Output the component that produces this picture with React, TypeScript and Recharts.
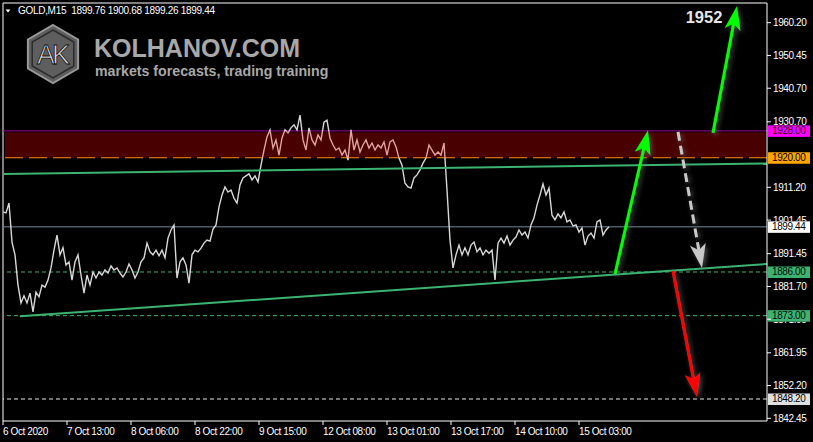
import React from "react";
import { ComposedChart, Line, XAxis, YAxis, ReferenceLine, ReferenceArea } from "recharts";

const FONT = "'Liberation Sans', Arial, sans-serif";

// GOLD M15 closes, one sample every third bar
const BAR_STEP = 3;
const CLOSES = [
  1903.9, 1903.6, 1906.5, 1894.9, 1891.1, 1882.1, 1876.8, 1878.9, 1876.8, 1879.7,
  1874.1, 1880.0, 1878.6, 1882.1, 1881.5, 1883.6, 1887.2, 1892.5, 1897.0, 1891.1,
  1893.2, 1888.1, 1889.0, 1883.6, 1889.0, 1891.1, 1885.1, 1879.7, 1885.1, 1882.1,
  1886.0, 1884.2, 1886.0, 1885.1, 1886.6, 1885.7, 1887.8, 1886.6, 1887.2, 1885.7,
  1884.5, 1886.0, 1888.4, 1886.6, 1884.2, 1886.0, 1889.0, 1890.2, 1894.6, 1892.0,
  1891.1, 1892.5, 1890.8, 1892.5, 1890.2, 1896.1, 1898.5, 1900.0, 1884.2, 1889.0,
  1890.2, 1888.1, 1882.7, 1891.1, 1892.5, 1892.0, 1893.1, 1894.6, 1895.5, 1895.2,
  1898.8, 1900.0, 1905.4, 1908.9, 1911.3, 1909.8, 1910.4, 1908.0, 1906.5, 1911.9,
  1914.0, 1914.6, 1915.2, 1913.4, 1914.6, 1912.8, 1917.8, 1922.3, 1926.2, 1928.3,
  1922.9, 1925.3, 1920.8, 1925.9, 1928.3, 1927.4, 1928.9, 1929.8, 1928.3, 1932.7,
  1925.3, 1922.3, 1928.9, 1925.3, 1923.8, 1926.8, 1925.3, 1930.6, 1931.2, 1925.9,
  1923.8, 1922.3, 1922.9, 1920.8, 1922.3, 1919.3, 1928.3, 1922.3, 1925.3, 1921.7,
  1923.8, 1925.3, 1922.9, 1924.4, 1922.3, 1923.8, 1922.9, 1924.7, 1920.8, 1924.7,
  1925.3, 1923.2, 1919.9, 1917.8, 1912.4, 1911.3, 1911.0, 1914.0, 1914.9, 1916.4,
  1918.4, 1919.9, 1923.8, 1922.3, 1920.8, 1921.7, 1920.8, 1924.4, 1910.4, 1895.5,
  1887.2, 1891.1, 1894.0, 1891.1, 1893.2, 1891.1, 1894.0, 1894.9, 1892.0, 1893.2,
  1891.1, 1892.5, 1891.6, 1892.5, 1883.6, 1894.6, 1896.1, 1894.6, 1896.7, 1894.0,
  1895.5, 1896.4, 1898.5, 1897.0, 1897.9, 1896.1, 1900.0, 1902.1, 1905.9, 1908.9,
  1912.2, 1908.9, 1911.0, 1902.9, 1901.5, 1903.3, 1902.1, 1903.9, 1900.9, 1901.5,
  1899.7, 1900.0, 1897.9, 1899.1, 1894.0, 1896.7, 1897.6, 1896.1, 1900.9, 1901.5,
  1897.0, 1898.5, 1899.44,
];

const TIME_TICKS = [0, 64, 128, 192, 256, 320, 384, 448, 512, 576];
const TIME_LABELS = [
  "6 Oct 2020", "7 Oct 13:00", "8 Oct 06:00", "8 Oct 22:00", "9 Oct 15:00",
  "12 Oct 08:00", "13 Oct 01:00", "13 Oct 17:00", "14 Oct 10:00", "15 Oct 03:00",
];
const PRICE_TICKS = [
  1960.2, 1950.45, 1940.7, 1930.7, 1911.2, 1901.45, 1891.45, 1881.7,
  1871.95, 1861.95, 1852.2, 1842.45,
];

// horizontal levels
const ZONE_TOP = 1928;
const ZONE_BOTTOM = 1920;
const LAST_PRICE = 1899.44;
const SUPPORT = 1886;
const SUPPORT_LOW = 1873;
const TARGET_DOWN = 1848.2;

// channel lines [bar, price]
const UPPER_TREND = [[0, 1915.2], [764, 1918.3]];
const LOWER_TREND = [[17, 1872.8], [764, 1888.4]];

// forecast arrows [bar, price]
const UP_NEAR = [[612, 1885.4], [645, 1928.2]];
const UP_FAR = [[710, 1927.4], [734, 1965.2]];
const PULLBACK = [[675, 1927.7], [699, 1887.2]];
const BREAKDOWN = [[670, 1886.3], [694, 1848.8]];

const X_DOMAIN = [0, 764];
const Y_DOMAIN = [1841.65, 1966.06];

const W = 813;
const H = 442;
const PLOT_TOP = 3;
const PLOT_H = H - PLOT_TOP - 21;
const PX_PER_UNIT = PLOT_H / (Y_DOMAIN[1] - Y_DOMAIN[0]);
const priceToY = (p: number) => PLOT_TOP + (Y_DOMAIN[1] - p) * PX_PER_UNIT;

const TAG_LEVELS = [ZONE_TOP, ZONE_BOTTOM, LAST_PRICE, SUPPORT, SUPPORT_LOW, TARGET_DOWN];

const data = CLOSES.map((price, i) => ({ bar: i * BAR_STEP, price }));

const seg = (pts: number[][]) => pts.map(([x, y]) => ({ x, y }));

function TimeTick({ x, y, payload }: any) {
  const i = TIME_TICKS.indexOf(payload.value);
  return (
    <text x={x} y={y + 8} fill="#fff" fontSize={10} fontFamily={FONT} letterSpacing={-0.4}>
      {TIME_LABELS[i]}
    </text>
  );
}

// axis prices sit under the coloured level tags, so cut the tag boxes out of them
function PriceTick({ x, y, payload }: any) {
  const v = Number(payload.value);
  const holes = TAG_LEVELS.map((l) => y + (v - l) * PX_PER_UNIT).filter(
    (ty) => Math.abs(ty - y) < 14
  );
  const id = `price-tick-${Math.round(v * 100)}`;
  const d =
    `M${x - 4},${y - 12}h52v24h-52z` +
    holes.map((ty) => `M${x - 4},${ty - 5.5}h52v11.5h-52z`).join("");
  return (
    <g>
      {holes.length > 0 && (
        <defs>
          <clipPath id={id}>
            <path d={d} clipRule="evenodd" />
          </clipPath>
        </defs>
      )}
      <text
        x={x}
        y={y + 3.5}
        fill="#fff"
        fontSize={10}
        fontFamily={FONT}
        letterSpacing={-0.4}
        clipPath={holes.length > 0 ? `url(#${id})` : undefined}
      >
        {v.toFixed(2)}
      </text>
    </g>
  );
}

function PriceTag({ viewBox, bg, fg, value }: any) {
  if (!viewBox) return null;
  const x = viewBox.x + viewBox.width + 1;
  const y = viewBox.y;
  return (
    <g>
      <rect x={x} y={y - 5.5} width={42} height={11.5} fill={bg} />
      <text x={x + 4} y={y + 3.5} fill={fg} fontSize={10} fontFamily={FONT} letterSpacing={-0.4}>
        {value.toFixed(2)}
      </text>
    </g>
  );
}

function arrowShape(color: string, dashed: boolean) {
  return (p: any) => {
    const { x1, y1, x2, y2 } = p;
    const dx = x2 - x1;
    const dy = y2 - y1;
    const len = Math.hypot(dx, dy) || 1;
    const ux = dx / len;
    const uy = dy / len;
    const nx = -uy;
    const ny = ux;
    const head = 24;
    const half = 8;
    const notch = 6;
    const bx = x2 - ux * head;
    const by = y2 - uy * head;
    const mx = x2 - ux * (head - notch);
    const my = y2 - uy * (head - notch);
    const pts = [
      [x2, y2],
      [bx + nx * half, by + ny * half],
      [mx, my],
      [bx - nx * half, by - ny * half],
    ]
      .map((q) => q.join(","))
      .join(" ");
    return (
      <g filter="url(#arrowShadow)">
        <line
          x1={x1}
          y1={y1}
          x2={mx}
          y2={my}
          stroke={color}
          strokeWidth={3}
          strokeDasharray={dashed ? "9 5" : undefined}
        />
        <polygon points={pts} fill={color} />
      </g>
    );
  };
}

function Overlay() {
  const hex = (cx: number, cy: number, r: number) =>
    [-90, -30, 30, 90, 150, 210]
      .map((a) => {
        const t = (a * Math.PI) / 180;
        return `${cx + r * Math.cos(t)},${cy + r * Math.sin(t)}`;
      })
      .join(" ");
  const zTop = priceToY(ZONE_TOP) / H;
  const zBottom = priceToY(ZONE_BOTTOM) / H;
  return (
    <svg
      width={W}
      height={H}
      style={{ position: "absolute", left: 0, top: 0, pointerEvents: "none" }}
    >
      <defs>
        <filter id="arrowShadow" x="-50%" y="-50%" width="200%" height="200%">
          <feDropShadow dx="2" dy="2" stdDeviation="2.5" floodColor="#707070" floodOpacity="0.7" />
        </filter>
        {/* price line turns pink inside the supply zone */}
        <linearGradient id="priceStroke" gradientUnits="userSpaceOnUse" x1={0} y1={0} x2={0} y2={H}>
          <stop offset={0} stopColor="#d8d8d8" />
          <stop offset={zTop} stopColor="#d8d8d8" />
          <stop offset={zTop} stopColor="#e2a2a2" />
          <stop offset={zBottom} stopColor="#e2a2a2" />
          <stop offset={zBottom} stopColor="#d8d8d8" />
          <stop offset={1} stopColor="#d8d8d8" />
        </linearGradient>
      </defs>
      <polygon points="5.5,9.5 10.5,9.5 8,12.5" fill="#fff" />
      <text x={18} y={14} fill="#fff" fontSize={10} fontFamily={FONT} letterSpacing={-0.3}>
        GOLD,M15 {"\u00a0"}1899.76 1900.68 1899.26 1899.44
      </text>
      <polygon points={hex(53, 54, 29)} fill="#5e5e5e" stroke="#999" strokeWidth={2} />
      <polygon points={hex(53, 54, 24)} fill="none" stroke="#2c2c2c" strokeWidth={1.5} />
      <text
        x={52}
        y={64}
        textAnchor="middle"
        fill="#dcdcdc"
        stroke="#111"
        strokeWidth={0.8}
        fontSize={27}
        fontFamily={FONT}
        letterSpacing={-3}
      >
        AK
      </text>
      <text x={94} y={57} fill="#a8a8a8" fontSize={25} fontWeight="bold" fontFamily={FONT}>
        KOLHANOV.COM
      </text>
      <text x={95} y={75.5} fill="#a8a8a8" fontSize={14.2} fontWeight="bold" fontFamily={FONT}>
        markets forecasts, trading training
      </text>
      <text
        x={704}
        y={23}
        textAnchor="middle"
        fill="#e6e6e6"
        fontSize={16.5}
        fontWeight="bold"
        fontFamily={FONT}
      >
        1952
      </text>
    </svg>
  );
}

export default function App() {
  return (
    <div
      style={{
        position: "absolute",
        left: 0,
        top: 0,
        width: W,
        height: H,
        background: "#000",
        overflow: "hidden",
      }}
    >
      <Overlay />
      <div style={{ position: "absolute", left: 0, top: 0 }}>
        <ComposedChart
          width={W}
          height={H}
          data={data}
          margin={{ top: PLOT_TOP, right: 0, bottom: 0, left: 3 }}
        >
          <XAxis
            dataKey="bar"
            type="number"
            domain={X_DOMAIN}
            ticks={TIME_TICKS}
            interval={0}
            allowDataOverflow
            height={21}
            tickSize={4}
            stroke="#fff"
            axisLine={{ stroke: "#fff" }}
            tickLine={{ stroke: "#fff" }}
            tick={<TimeTick />}
          />
          <YAxis
            orientation="right"
            type="number"
            domain={Y_DOMAIN}
            ticks={PRICE_TICKS}
            interval={0}
            allowDataOverflow
            width={46}
            tickSize={4}
            stroke="#fff"
            axisLine={{ stroke: "#fff" }}
            tickLine={{ stroke: "#fff" }}
            tick={<PriceTick />}
          />
          <ReferenceLine y={Y_DOMAIN[1]} stroke="#fff" />
          <ReferenceLine x={X_DOMAIN[0]} stroke="#fff" />

          <ReferenceArea
            x1={2}
            x2={762}
            y1={ZONE_BOTTOM}
            y2={ZONE_TOP - 0.4}
            fill="#480000"
            fillOpacity={1}
            stroke="none"
            strokeWidth={0}
          />

          <ReferenceLine
            y={LAST_PRICE}
            stroke="#778899"
            label={<PriceTag bg="#fff" fg="#000" value={LAST_PRICE} />}
          />
          <ReferenceLine
            y={SUPPORT}
            stroke="#3cb371"
            strokeDasharray="4 3"
            label={<PriceTag bg="#3cb371" fg="#0a0a0a" value={SUPPORT} />}
          />
          <ReferenceLine
            y={SUPPORT_LOW}
            stroke="#3cb371"
            strokeDasharray="4 3"
            label={<PriceTag bg="#3cb371" fg="#0a0a0a" value={SUPPORT_LOW} />}
          />
          <ReferenceLine
            y={TARGET_DOWN}
            stroke="#e8e8e8"
            strokeDasharray="4 3"
            label={<PriceTag bg="#e0e0e0" fg="#000" value={TARGET_DOWN} />}
          />
          <ReferenceLine
            y={ZONE_TOP}
            stroke="#9c009c"
            strokeWidth={1}
            label={<PriceTag bg="#ff00ff" fg="#200020" value={ZONE_TOP} />}
          />
          <ReferenceLine
            y={ZONE_BOTTOM}
            stroke="#ff8c00"
            strokeDasharray="18 6"
            label={<PriceTag bg="#ffa500" fg="#000" value={ZONE_BOTTOM} />}
          />

          <Line
            dataKey="price"
            type="linear"
            stroke="url(#priceStroke)"
            strokeWidth={1.4}
            dot={false}
            isAnimationActive={false}
          />

          <ReferenceLine segment={seg(UPPER_TREND)} stroke="#3cb371" strokeWidth={2} ifOverflow="visible" />
          <ReferenceLine segment={seg(LOWER_TREND)} stroke="#3cb371" strokeWidth={2} ifOverflow="visible" />

          <ReferenceLine segment={seg(UP_NEAR)} ifOverflow="visible" shape={arrowShape("#00ff00", false)} />
          <ReferenceLine segment={seg(UP_FAR)} ifOverflow="visible" shape={arrowShape("#00ff00", false)} />
          <ReferenceLine segment={seg(PULLBACK)} ifOverflow="visible" shape={arrowShape("#c8c8c8", true)} />
          <ReferenceLine segment={seg(BREAKDOWN)} ifOverflow="visible" shape={arrowShape("#ff0000", false)} />
        </ComposedChart>
      </div>
    </div>
  );
}
